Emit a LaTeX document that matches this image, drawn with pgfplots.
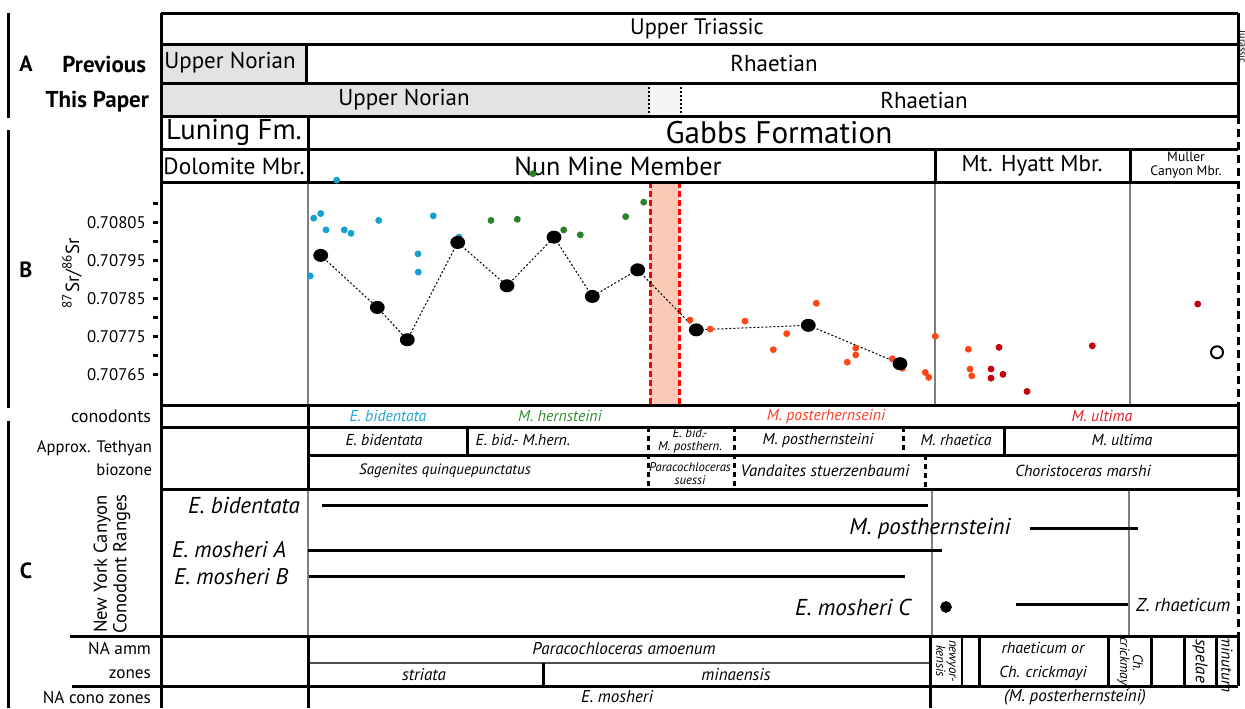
\documentclass[border=0pt]{standalone}
\usepackage{pgfplots}
\pgfplotsset{compat=1.18}
\usepackage{fontspec}
\setmainfont{PT Sans}
\definecolor{cb}{RGB}{22,160,205}
\definecolor{cg}{RGB}{40,130,40}
\definecolor{co}{RGB}{255,70,20}
\definecolor{cr}{RGB}{200,0,12}
\definecolor{tb}{RGB}{30,165,215}
\definecolor{tg}{RGB}{50,140,50}
\definecolor{to}{RGB}{255,60,30}
\definecolor{tr}{RGB}{225,25,35}
\definecolor{grayA}{RGB}{227,227,227}
\definecolor{grayB}{RGB}{245,245,245}
\definecolor{peach}{RGB}{249,203,183}
\newcommand{\fz}[2]{\fontsize{#1}{#2}\selectfont}
\begin{document}
\begin{tikzpicture}
\useasboundingbox (0,0) rectangle (622.5pt,354pt);
\begin{axis}[at={(0,0)}, anchor=south west, scale only axis, width=622.5pt, height=354pt,
  xmin=0, xmax=1245, ymin=0, ymax=708, y dir=reverse, hide axis, clip=false]
% fills
\fill[grayA] (161,44) rectangle (306,83);
\fill[grayA] (161,83) rectangle (649,116);
\fill[grayB] (649,83) rectangle (681,116);
\fill[peach] (650,182) rectangle (679,405);
% thin gray lines
\draw[black!50, line width=0.8pt] (308,182)--(308,405) (935,182)--(935,405) (1130,182)--(1130,405);
\draw[black!50, line width=0.8pt] (308,489)--(308,636) (932,489)--(932,636) (1129,489)--(1129,636);
\draw[black!70, line width=1.2pt] (308,663)--(930,663);
% band edges
\draw[red, line width=1.5pt, dash pattern=on 3pt off 1.5pt] (650,182)--(650,405) (679,182)--(679,405);
% thick black lines
\draw[line width=1.5pt]
 (161,13)--(1238,13) (161,44)--(1238,44) (161,83)--(1238,83) (161,116)--(1238,116)
 (161,149)--(1238,149) (161,182)--(1238,182) (161,405)--(1238,405) (161,427)--(1238,427)
 (308,455)--(1238,455) (161,489)--(1238,489) (70,636)--(1238,636) (72,686)--(1238,686)
 (161,13)--(161,708) (1238,13)--(1238,116) (306,44)--(306,83) (308,116)--(308,182)
 (935,149)--(935,182) (1130,149)--(1130,182) (308,405)--(308,489) (467,427)--(467,455)
 (1004,427)--(1004,455) (1238,405)--(1238,489) (308,636)--(308,708) (543,663)--(543,686)
 (930,636)--(930,708) (979,636)--(979,686) (1108.6,636)--(1108.6,686) (1151.5,636)--(1151.5,686)
 (1184.7,636)--(1184.7,686) (1216,636)--(1216,686) (1238,636)--(1238,686)
 (8,13)--(8,118) (8,130)--(8,408) (8,421)--(8,708);
\draw[line width=0.6pt] (962,636)--(962,686);
\draw[line width=1pt, dash pattern=on 1pt off 1pt] (649,83)--(649,116) (681,83)--(681,116);
\draw[line width=1.5pt, dash pattern=on 2.5pt off 2pt] (648,427)--(648,489) (734,427)--(734,489)
 (903,427)--(903,455) (925,455)--(925,489);
\draw[line width=1.5pt, dash pattern=on 4pt off 2.5pt] (1238,116)--(1238,405) (1238,489)--(1238,636);
% range bars
\addplot[black, line width=1.5pt] coordinates {(322,505) (928,505)};
\addplot[black, line width=1.5pt] coordinates {(1030,528) (1138,528)};
\addplot[black, line width=1.5pt] coordinates {(308,550) (942,550)};
\addplot[black, line width=1.5pt] coordinates {(309,576) (905,576)};
\addplot[black, line width=1.5pt] coordinates {(1016,604) (1128,604)};
\addplot[black, only marks, mark=*, mark size=2.7pt] coordinates {(946,607)};
% row labels
\node[font=\bfseries\fz{11}{12}] at (26,64) {A};
\node[font=\bfseries\fz{11}{12}] at (26,270) {B};
\node[font=\bfseries\fz{11}{12}] at (26,571) {C};
\node[anchor=east, font=\bfseries\fz{11.5}{12}] at (153,64) {Previous};
\node[anchor=east, font=\bfseries\fz{11.5}{12}] at (156,102) {This Paper};
\node[rotate=90, font=\fz{9.5}{10}] at (72,273) {\textsuperscript{87}Sr/\textsuperscript{86}Sr};
\node[anchor=east, font=\fz{9}{9}] at (158,416) {conodonts};
\node[anchor=east, align=right, font=\fz{8.3}{11.5}] at (159,458) {Approx. Tethyan\\biozone};
\node[rotate=90, align=center, font=\fz{9.3}{9.8}] at (112,564) {New York Canyon\\Conodont Ranges};
\node[anchor=east, align=right, font=\fz{8.6}{12}] at (158,660) {NA amm\\zones};
\node[anchor=east, font=\fz{8.6}{9}] at (158,697) {NA cono zones};
% top table text
\node[font=\fz{11.2}{12}] at (697,29) {Upper Triassic};
\node[font=\fz{11.5}{12}] at (230,63) {Upper Norian};
\node[font=\fz{11.5}{12}] at (774,63) {Rhaetian};
\node[font=\fz{11.5}{12}] at (404,100) {Upper Norian};
\node[font=\fz{11.5}{12}] at (924,100) {Rhaetian};
\node[font=\fz{14.3}{15}] at (234,132) {Luning Fm.};
\node[font=\fz{15.6}{16}] at (779,133) {Gabbs Formation};
\node[font=\fz{11.7}{13}] at (234,166) {Dolomite Mbr.};
\node[font=\fz{13.1}{14}] at (618,166) {Nun Mine Member};
\node[font=\fz{11.5}{14}] at (1032,166) {Mt. Hyatt Mbr.};
\node[align=center, font=\fz{6.8}{6.8}] at (1186,165) {Muller\\Canyon Mbr.};
\node[rotate=-90, font=\fz{5}{6}] at (1243,47) {Jurassic};
% conodont row
\node[font=\itshape\fz{7.9}{9}, text=tb] at (388,416) {E. bidentata};
\node[font=\itshape\fz{7.9}{9}, text=tg] at (560,416) {M. hernsteini};
\node[font=\itshape\fz{7.9}{9}, text=to] at (826,416) {M. posterhernseini};
\node[font=\itshape\fz{7.9}{9}, text=tr] at (1102,416) {M. ultima};
% tethyan
\node[font=\itshape\fz{7.9}{8}] at (384,440) {E. bidentata};
\node[font=\itshape\fz{7.9}{8}] at (523,440) {E. bid.- M.hern.};
\node[align=center, font=\itshape\fz{6.4}{6.4}, inner sep=0pt] at (690,441) {E. bid.-\\M. posthern.};
\node[font=\itshape\fz{7.9}{8}] at (818,440) {M. posthernsteini};
\node[font=\itshape\fz{7.9}{8}] at (956,440) {M. rhaetica};
\node[font=\itshape\fz{7.9}{8}] at (1122,440) {M. ultima};
\node[font=\itshape\fz{7.5}{8}] at (445,471) {Sagenites quinquepunctatus};
\node[align=center, font=\itshape\fz{6.3}{6.5}] at (690,474) {Paracochloceras\\suessi};
\node[font=\itshape\fz{8.3}{8}] at (825,471) {Vandaites stuerzenbaumi};
\node[font=\itshape\fz{8}{8}] at (1083,471) {Choristoceras marshi};
% range labels
\node[anchor=east, font=\itshape\fz{11.5}{13}] at (307,505) {E. bidentata};
\node[font=\itshape\fz{11.5}{13}] at (930,529) {M. posthernsteini};
\node[anchor=west, font=\itshape\fz{11.3}{13}] at (165,550) {E. mosheri A};
\node[anchor=west, font=\itshape\fz{11.3}{13}] at (167,577) {E. mosheri B};
\node[anchor=east, font=\itshape\fz{11.5}{13}] at (918,607) {E. mosheri C};
\node[anchor=west, font=\itshape\fz{9.3}{11}] at (1129,605) {Z. rhaeticum};
% NA zones
\node[font=\itshape\fz{8.5}{8}] at (624,649) {Paracochloceras amoenum};
\node[font=\itshape\fz{8.5}{8}] at (424,675) {striata};
\node[font=\itshape\fz{8.5}{8}] at (736,675) {minaensis};
\node[rotate=-90, align=center, font=\itshape\fz{6.5}{6.3}] at (946,661) {newyor-\\kensis};
\node[align=center, font=\itshape\fz{8}{12}] at (1043,661) {rhaeticum or\\Ch. crickmayi};
\node[rotate=-90, align=center, font=\itshape\fz{6.8}{6.5}] at (1130,663) {Ch.\\crickmayi};
\node[rotate=-90, font=\itshape\fz{8.5}{8}] at (1200,661) {spelae};
\node[rotate=-90, font=\itshape\fz{7.8}{8}] at (1227,664) {minutum};
\node[font=\itshape\fz{8.5}{8}] at (617,697) {E. mosheri};
\node[font=\itshape\fz{8.5}{8}] at (1075,697) {(M. posterhernsteini)};
\end{axis}
\begin{axis}[at={(79pt,151.5pt)}, anchor=south west, scale only axis, width=540pt, height=111.5pt,
  xmin=158, xmax=1238, ymin=0.7075703, ymax=0.7081571,
  axis line style={draw=none}, xtick=\empty, ytick pos=left, scaled y ticks=false,
  ytick={0.70765,0.70775,0.70785,0.70795,0.70805},
  yticklabels={0.70765,0.70775,0.70785,0.70795,0.70805},
  minor ytick={0.7077,0.7078,0.7079,0.708,0.7081},
  tick align=outside, major tick length=2.6pt, minor tick length=2.6pt,
  tick style={black, line width=1.5pt}, minor tick style={black, line width=1.5pt},
  yticklabel style={font=\fz{8.4}{9}},
  clip=false]
\addplot[only marks, mark=*, mark size=1.5pt, color=cb] coordinates {
(313.7,0.708062) (320.7,0.708074) (326,0.708031) (344.3,0.708031) (351,0.708022)
(378.7,0.708056) (310.3,0.707910) (336.7,0.708162) (433.3,0.708068) (418,0.707968)
(418.3,0.707920) (459,0.708012)};
\addplot[only marks, mark=*, mark size=1.5pt, color=cg] coordinates {
(491,0.708056) (517.3,0.708059) (563.7,0.708031) (580.3,0.708018) (625.7,0.708066)
(643.7,0.708104) (533,0.708179)};
\addplot[only marks, mark=*, mark size=1.5pt, color=co] coordinates {
(690,0.707794) (710.3,0.707770) (745,0.707791) (816.3,0.707838) (786.7,0.707758)
(773.3,0.707716) (847.3,0.707683) (855.7,0.707720) (855.7,0.707702) (892.3,0.707692)
(902.3,0.707667) (925.3,0.707656) (928.7,0.707643) (935.3,0.707751) (968.3,0.707717)
(970,0.707665) (971.7,0.707647)};
\addplot[only marks, mark=*, mark size=1.5pt, color=cr] coordinates {
(999,0.707722) (991,0.707665) (991,0.707641) (1003,0.707651) (1027,0.707606)
(1092.3,0.707726) (1197.7,0.707836)};
\addplot[black, line width=0.5pt, dash pattern=on 1pt off 1pt, mark=*, mark size=3pt,
  mark options={solid, xscale=1.15}] coordinates {
(320.7,0.707964) (377.3,0.707827) (407.3,0.707742) (457.7,0.707998) (507,0.707884)
(554,0.708012) (592.3,0.707856) (637.7,0.707926) (696.3,0.707768) (808.3,0.707780)
(900,0.707679)};
\addplot[only marks, mark=o, mark size=3pt, line width=1pt, black] coordinates {(1217,0.707709)};
\end{axis}
\end{tikzpicture}
\end{document}
